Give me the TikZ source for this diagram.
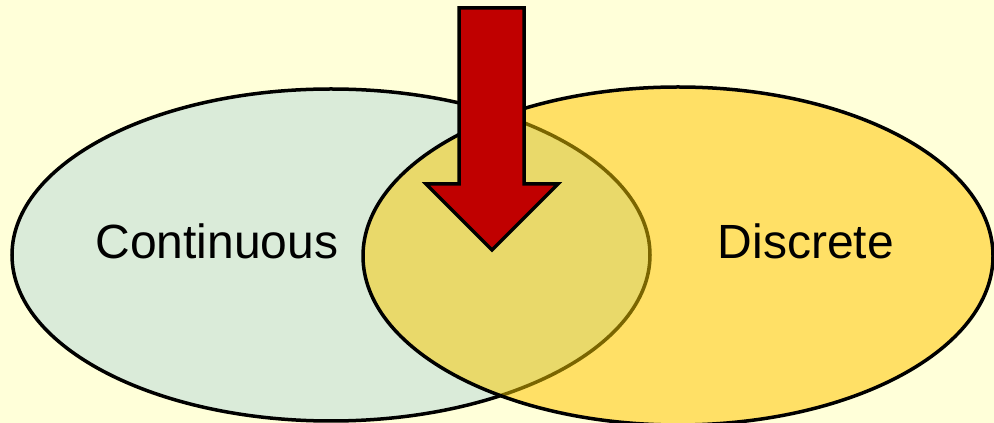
\documentclass[tikz,border=0pt]{standalone}
\usepackage{fontspec}
\setmainfont{Liberation Sans}
\definecolor{bgc}{HTML}{FFFFD9}
\definecolor{leftc}{HTML}{DAEBD9}
\definecolor{rightc}{HTML}{FFE066}
\definecolor{overc}{HTML}{E9D96A}
\definecolor{olivec}{HTML}{7A6500}
\definecolor{arrowc}{HTML}{C00000}
\tikzset{
  outline/.style={line width=3.5pt},
  lbl/.style={font=\fontsize{48}{56}\selectfont, inner sep=0pt, text=black}
}
\begin{document}
\begin{tikzpicture}[x=1pt,y=1pt]
\fill[bgc] (0,0) rectangle (994,423);
\useasboundingbox (0,0) rectangle (994,423);
% left ellipse
\fill[leftc] (331,168) ellipse [x radius=319, y radius=166];
\draw[outline] (331,168) ellipse [x radius=319, y radius=166];
% right ellipse fill
\fill[rightc] (678,167) ellipse [x radius=315, y radius=169];
\begin{scope}
  \clip (678,167) ellipse [x radius=315, y radius=169];
  \fill[overc] (331,168) ellipse [x radius=319, y radius=166];
  \draw[outline, olivec] (331,168) ellipse [x radius=319, y radius=166];
\end{scope}
\draw[outline] (678,167) ellipse [x radius=315, y radius=169];
% labels
\node[lbl] (cont) at (217,182) {Continuous};
\node[lbl] (disc) at (806,182) {Discrete};
% arrow
\draw[outline, fill=arrowc, line join=miter]
  (459,415) -- (524,415) -- (524,239) -- (558,239) -- (492,173)
  -- (426,239) -- (459,239) -- cycle;
\end{tikzpicture}
\end{document}
